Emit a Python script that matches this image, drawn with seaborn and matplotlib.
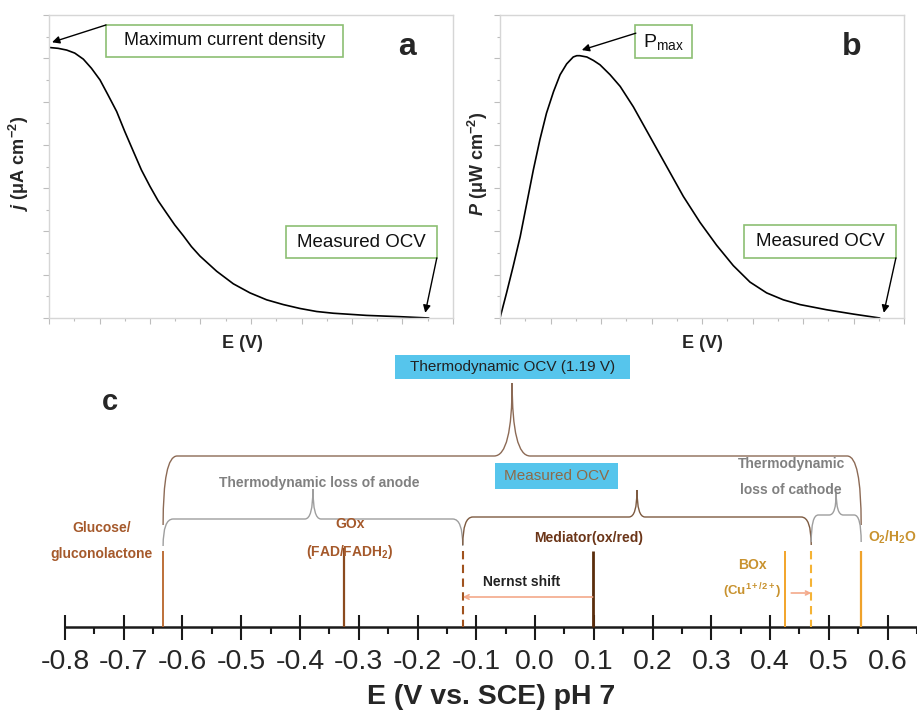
import numpy as np
import matplotlib
matplotlib.use("Agg")
import matplotlib.pyplot as plt
from matplotlib.patches import Rectangle, PathPatch
from matplotlib.path import Path
import seaborn as sns
import pandas as pd

# ---- data (arbitrary units for a and b) ----
e_a = [0.0, 0.18, 0.35, 0.51, 0.68, 0.84, 1.01, 1.17, 1.34, 1.50, 1.67, 1.83,
       2.00, 2.16, 2.33, 2.49, 2.66, 2.82, 2.99, 3.32, 3.65, 3.98, 4.31, 4.64,
       4.97, 5.30, 5.63, 6.29, 6.96, 7.52]
j_a = [6.25, 6.23, 6.19, 6.12, 5.98, 5.77, 5.50, 5.15, 4.77, 4.31, 3.85, 3.42,
       3.04, 2.71, 2.42, 2.15, 1.90, 1.65, 1.43, 1.08, 0.79, 0.58, 0.42, 0.31,
       0.22, 0.15, 0.11, 0.06, 0.03, 0.0]

e_b = [0.0, 0.13, 0.26, 0.40, 0.53, 0.66, 0.79, 0.92, 1.06, 1.19, 1.32, 1.45,
       1.52, 1.58, 1.72, 1.85, 1.98, 2.18, 2.38, 2.64, 2.97, 3.30, 3.63, 3.96,
       4.29, 4.62, 4.95, 5.28, 5.61, 5.94, 6.47, 7.00, 7.52]
p_b = [0.0, 0.58, 1.19, 1.88, 2.65, 3.42, 4.12, 4.73, 5.23, 5.62, 5.87, 6.03,
       6.06, 6.06, 6.03, 5.95, 5.85, 5.62, 5.35, 4.88, 4.19, 3.50, 2.81, 2.21,
       1.68, 1.21, 0.83, 0.58, 0.42, 0.31, 0.19, 0.09, 0.0]

# panel c: redox potentials (V vs SCE, pH 7)
E_glucose = -0.633
E_gox = -0.325
E_mediator = 0.098
E_box = 0.426
E_o2 = 0.555
E_anode_meas = -0.123
E_cathode_meas = 0.470
e_ticks = np.arange(-8, 7) / 10
e_minor = np.arange(-7.5, 7, 1) / 10

sns.set_style("white")
plt.rcParams["font.family"] = ["Liberation Sans", "DejaVu Sans"]
plt.rcParams["axes.unicode_minus"] = False
plt.rcParams["mathtext.fontset"] = "custom"
plt.rcParams["mathtext.rm"] = "Liberation Sans"
plt.rcParams["mathtext.it"] = "Liberation Sans:italic"
plt.rcParams["mathtext.bf"] = "Liberation Sans:bold"
plt.rcParams["mathtext.bfit"] = "Liberation Sans:italic:bold"

fig = plt.figure(figsize=(9.17, 7.1), dpi=100)
green = "#8cbf73"

def small_panel(left, e, y, ylab, letter, letter_x):
    ax = fig.add_axes([left, 1 - 318 / 710, 404 / 917, 303 / 710])
    sns.lineplot(x=e, y=y, ax=ax, color="black", lw=1.2, sort=False)
    ax.set_xlim(0, 8)
    ax.set_ylim(0, 7)
    ax.set_xticks(range(9))
    ax.set_yticks(range(8))
    ax.set_xticks(np.arange(0.5, 8, 1), minor=True)
    ax.set_yticks(np.arange(0.5, 7, 1), minor=True)
    ax.set_xticklabels([])
    ax.set_yticklabels([])
    ax.tick_params(which="major", direction="out", length=4, width=0.8,
                   color="#bdbdbd", bottom=True, left=True)
    ax.tick_params(which="minor", direction="out", length=2.5, width=0.8,
                   color="#bdbdbd", bottom=True, left=True)
    for s in ax.spines.values():
        s.set_color("#d6d6d6")
        s.set_linewidth(1.0)
    ax.set_xlabel("E (V)", fontsize=13, fontweight="bold")
    ax.set_ylabel(ylab, fontsize=13, fontweight="bold")
    ax.text(letter_x, 0.895, letter, transform=ax.transAxes,
            fontsize=23, fontweight="bold", ha="center", va="center")
    return ax

def label_box(ax, x0, x1, y0, y1, text, fs=13.5):
    ax.add_patch(Rectangle((x0, y1), x1 - x0, y0 - y1, facecolor="white",
                           edgecolor=green, lw=1.2, zorder=3))
    ax.text((x0 + x1) / 2, (y0 + y1) / 2, text, ha="center", va="center",
            fontsize=fs, color="#111111", zorder=4)

def arrow(ax, start, end):
    ax.annotate("", xy=end, xytext=start,
                arrowprops=dict(arrowstyle="-|>", color="black", lw=1.0,
                                mutation_scale=11, shrinkA=0, shrinkB=0))

# ---- panel a ----
ax_a = small_panel(49 / 917, e_a, j_a, r"$\mathbfit{j}$ (μA cm$^{\mathbf{-2}}$)", "a", 0.886)
ax_a.yaxis.set_label_coords(-0.045, 0.51)
ax_a.xaxis.set_label_coords(0.48, -0.056)
label_box(ax_a, 1.13, 5.82, 6.77, 6.03, "Maximum current density", fs=13)
arrow(ax_a, (1.13, 6.77), (e_a[0] + 0.06, j_a[0] + 0.12))
label_box(ax_a, 4.69, 7.68, 2.12, 1.39, "Measured OCV")
arrow(ax_a, (7.68, 1.39), (e_a[-1] - 0.07, j_a[-1] + 0.12))

# ---- panel b ----
ax_b = small_panel(500 / 917, e_b, p_b, r"$\mathbfit{P}$ (μW cm$^{\mathbf{-2}}$)", "b", 0.87)
ax_b.yaxis.set_label_coords(-0.025, 0.51)
ax_b.xaxis.set_label_coords(0.50, -0.056)
ipk = int(np.argmax(p_b))
label_box(ax_b, 2.67, 3.80, 6.77, 6.0, r"P$_{\mathrm{max}}$", fs=14)
arrow(ax_b, (2.69, 6.58), (e_b[ipk] + 0.1, p_b[ipk] + 0.13))
label_box(ax_b, 4.83, 7.84, 2.15, 1.39, "Measured OCV")
arrow(ax_b, (7.84, 1.39), (e_b[-1] + 0.08, p_b[-1] + 0.12))

# ---- panel c ----
ax_c = fig.add_axes([0, 0, 1, 370 / 710])
ax_c.set_facecolor("none")
px = 588.0  # pixels per volt
ax_c.set_xlim(-0.8 - 65 / px, -0.8 + 852 / px)
ax_c.set_ylim(710, 340)
for side in ["top", "left", "right"]:
    ax_c.spines[side].set_visible(False)
ax_c.spines["bottom"].set_position(("data", 627))
ax_c.spines["bottom"].set_color("#1a1a1a")
ax_c.spines["bottom"].set_linewidth(1.8)
ax_c.spines["bottom"].set_bounds(-0.8, 0.7)
ax_c.set_yticks([])
ax_c.set_xticks(e_ticks)
ax_c.set_xticklabels([f"{v:.1f}" for v in e_ticks])
ax_c.set_xticks(e_minor, minor=True)
ax_c.tick_params(axis="x", which="major", direction="inout", length=18, width=1.5,
                 color="#1a1a1a", labelsize=20.5, pad=7, bottom=True)
ax_c.tick_params(axis="x", which="minor", direction="out", length=5, width=1.5,
                 color="#1a1a1a", bottom=True)
ax_c.text(-0.075, 697, "E (V vs. SCE) pH 7", ha="center", va="center",
          fontsize=20.5, fontweight="bold")
ax_c.text(-0.8 + 45 / px, 402, "c", ha="center", va="center", fontsize=21,
          fontweight="bold")

top = 551
ax_c.vlines(E_glucose, top, 627, colors="#b8642a", lw=1.3, zorder=3)
ax_c.vlines(E_gox, top - 3, 627, colors="#8b4a1e", lw=1.6, zorder=3)
ax_c.vlines(E_mediator, top, 627, colors="#5a2d0c", lw=2.0, zorder=3)
ax_c.vlines(E_box, top, 627, colors="#f2a42a", lw=1.4, zorder=3)
ax_c.vlines(E_o2, top, 627, colors="#efa22b", lw=1.6, zorder=3)
ax_c.vlines(E_anode_meas, top, 627, colors="#a0521e", lw=1.5, linestyles=(0, (4, 2.6)), zorder=3)
ax_c.vlines(E_cathode_meas, top, 627, colors="#f5b335", lw=1.5, linestyles=(0, (4, 2.6)), zorder=3)

def brace(x0, x1, ybase, ytop, yend, color, re, rp, lw=1.0):
    xm = (x0 + x1) / 2
    re, rp = re / px, rp / px
    verts = [(x0, yend), (x0, ybase), (x0 + re, ybase),
             (xm - rp, ybase), (xm, ybase), (xm, ytop),
             (xm, ybase), (xm + rp, ybase),
             (x1 - re, ybase), (x1, ybase), (x1, yend)]
    codes = [Path.MOVETO, Path.CURVE3, Path.CURVE3, Path.LINETO, Path.CURVE3,
             Path.CURVE3, Path.CURVE3, Path.CURVE3, Path.LINETO, Path.CURVE3, Path.CURVE3]
    ax_c.add_patch(PathPatch(Path(verts, codes), fill=False, edgecolor=color, lw=lw))

brace(E_glucose, E_o2, 456, 383, 525, "#8c6a55", 14, 18, lw=1.0)
brace(E_glucose, E_anode_meas, 519, 489, 546, "#9e9e9e", 10, 8, lw=1.0)
brace(E_anode_meas, E_cathode_meas, 517, 490, 545, "#7d5a40", 10, 8, lw=1.0)
brace(E_cathode_meas, E_o2, 515, 493, 542, "#9e9e9e", 7, 7, lw=1.0)

cyan = "#56c5ec"
ax_c.add_patch(Rectangle((-0.239, 355), 0.40, 24, facecolor=cyan, edgecolor="none"))
ax_c.text(-0.039, 367.5, "Thermodynamic OCV (%.2f V)" % (E_o2 - E_glucose + 0.002),
          ha="center", va="center", fontsize=11, color="#222222")
ax_c.add_patch(Rectangle((-0.068, 463), 0.209, 26, facecolor=cyan, edgecolor="none"))
ax_c.text(0.036, 476.5, "Measured OCV", ha="center", va="center", fontsize=11,
          color="#8e6a48")

brown_t = "#a5592b"
grey_t = "#808080"
ax_c.text(-0.737, 528, "Glucose/", ha="center", va="center", fontsize=10,
          fontweight="bold", color=brown_t)
ax_c.text(-0.737, 554, "gluconolactone", ha="center", va="center", fontsize=10,
          fontweight="bold", color=brown_t)
ax_c.text(-0.368, 483, "Thermodynamic loss of anode", ha="center", va="center",
          fontsize=10, fontweight="bold", color=grey_t)
ax_c.text(E_gox + 0.01, 524, "GOx", ha="center", va="center", fontsize=10,
          fontweight="bold", color=brown_t)
ax_c.text(E_gox + 0.01, 552, r"(FAD/FADH$_{\mathbf{2}}$)", ha="center", va="center",
          fontsize=10, fontweight="bold", color=brown_t)
ax_c.text(E_mediator - 0.007, 538, "Mediator(ox/red)", ha="center", va="center",
          fontsize=10, fontweight="bold", color="#6b3518")
ax_c.text(-0.023, 582, "Nernst shift", ha="center", va="center", fontsize=10,
          fontweight="bold", color="#222222")
ax_c.annotate("", xy=(E_anode_meas, 597), xytext=(E_mediator, 597),
              arrowprops=dict(arrowstyle="->", color="#f4a98a", lw=1.2,
                              mutation_scale=8, shrinkA=0, shrinkB=0))
ax_c.annotate("", xy=(E_cathode_meas, 593), xytext=(E_box + 0.01, 593),
              arrowprops=dict(arrowstyle="->", color="#f4a98a", lw=1.2,
                              mutation_scale=7, shrinkA=0, shrinkB=0))
gold = "#c8922e"
ax_c.text(0.370, 565, "BOx", ha="center", va="center", fontsize=10,
          fontweight="bold", color=gold)
ax_c.text(0.370, 591, r"(Cu$^{\mathbf{1+/2+}}$)", ha="center", va="center",
          fontsize=9.5, fontweight="bold", color=gold)
ax_c.text(E_o2 + 0.011, 537, r"O$_{\mathbf{2}}$/H$_{\mathbf{2}}$O", ha="left",
          va="center", fontsize=10, fontweight="bold", color=gold)
ax_c.text(0.436, 464, "Thermodynamic", ha="center", va="center", fontsize=10,
          fontweight="bold", color=grey_t)
ax_c.text(0.436, 490, "loss of cathode", ha="center", va="center", fontsize=10,
          fontweight="bold", color=grey_t)

fig.savefig("out.png", dpi=100)
